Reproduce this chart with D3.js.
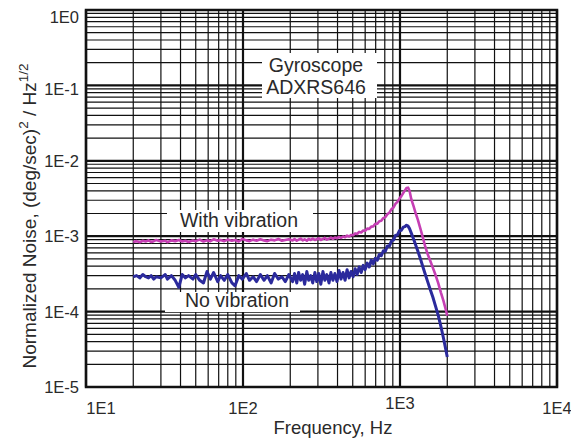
<!DOCTYPE html>
<html>
<head>
<meta charset="utf-8">
<script src="https://cdn.jsdelivr.net/npm/d3@7"></script>
<style>
  body { margin: 0; background: #fff; }
  text { font-family: "Liberation Sans", Arial, sans-serif; fill: #2a2a2a; }
</style>
</head>
<body>
<div id="chart-area"></div>
<script>
// frequency points (Hz)
var freq = [20, 21, 22, 23, 24, 25, 26, 27, 28,
  30, 32, 33, 35, 37, 39, 41, 43, 45,
  48, 50, 53, 56, 59, 62, 65, 69, 72,
  76, 80, 85, 89, 94, 99, 105, 110, 116,
  122, 129, 136, 143, 151, 159, 168, 177, 186,
  196,
  207, 213, 220, 226, 233, 240, 247, 255, 262, 270,
  278, 287, 295, 304, 313, 323, 332, 342, 353, 363,
  374, 385, 397, 409, 421, 434, 447, 460, 474, 488,
  503, 518, 533, 549, 566, 583, 600, 618, 637, 656,
  676, 696, 717, 738, 760, 783, 807, 831, 856, 882,
  908, 935, 963, 992, 1020, 1050, 1075, 1100, 1125, 1150,
  1180, 1220, 1260, 1300, 1350, 1400, 1450, 1500,
  1560, 1620, 1680, 1750, 1820, 1890, 1960, 2000];

// with vibration, in units of 1e-4
var withVib = [8.4, 8.6, 8.3, 8.7, 8.5, 8.8, 8.4, 8.6, 8.9,
  8.5, 8.7, 8.3, 8.8, 8.6, 8.9, 8.5, 8.7, 8.4,
  8.8, 8.6, 9.0, 8.5, 8.8, 8.6, 9.1, 8.7, 8.9,
  8.6, 9.0, 8.7, 8.9, 8.5, 9.2, 8.8, 8.6, 9.0,
  8.7, 9.1, 8.8, 8.6, 9.0, 8.8, 9.2, 8.7, 8.9,
  9.1,
  8.8, 9.2, 8.7, 9.0, 9.3, 8.8, 9.1, 8.7, 9.2, 8.9,
  9.3, 8.9, 9.1, 9.4, 8.9, 9.2, 9.5, 9.0, 9.3, 9.6,
  9.2, 9.6, 9.4, 9.8, 9.5, 9.9, 9.7, 10.2, 9.9, 10.4,
  10.3, 10.9, 10.7, 11.4, 11.2, 11.9, 11.8, 12.6, 12.5, 13.4,
  13.5, 14.6, 14.6, 15.8, 16.0, 17.4, 17.9, 19.6, 20.5, 22.8,
  24.0, 26.8, 28.5, 31.5, 34.0, 37.5, 40.5, 43.5, 44.0, 40.0,
  31.0, 25.0, 20.0, 16.5, 12.5, 9.5, 7.2, 5.8,
  4.7, 3.8, 3.1, 2.4, 1.8, 1.4, 1.05, 0.88];

// no vibration, in units of 1e-4
var noVib = [2.9, 3.0, 2.8, 3.1, 2.9, 2.8, 3.0, 2.7, 2.9,
  2.8, 3.1, 2.7, 3.0, 2.6, 2.1, 3.1, 2.8, 3.0,
  2.7, 3.1, 2.6, 2.4, 3.4, 2.7, 3.3, 2.5, 3.0,
  2.6, 3.1, 2.4, 2.2, 3.0, 2.7, 3.2, 2.6, 2.9,
  2.5, 3.1, 2.6, 3.0, 2.4, 3.2, 2.7, 2.9, 2.5,
  3.1,
  2.5, 3.2, 2.4, 3.3, 2.6, 3.1, 2.3, 3.4, 2.6, 3.0,
  2.4, 3.3, 2.5, 3.2, 2.3, 3.4, 2.6, 3.1, 2.4, 3.3,
  2.6, 3.2, 2.5, 3.5, 2.7, 3.3, 2.6, 3.6, 2.8, 3.4,
  2.9, 3.7, 3.1, 3.9, 3.3, 4.1, 3.6, 4.4, 3.9, 4.8,
  4.3, 5.1, 4.8, 5.7, 5.5, 6.4, 6.3, 7.4, 7.4, 8.6,
  8.9, 10.2, 10.4, 11.8, 12.0, 13.2, 13.4, 14.0, 13.6, 12.6,
  11.0, 9.2, 7.6, 6.3, 5.0, 3.9, 3.1, 2.5,
  1.95, 1.55, 1.2, 0.9, 0.64, 0.45, 0.31, 0.25];

var xTickLabels = ["1E1", "1E2", "1E3", "1E4"];
var yTickLabels = ["1E0", "1E-1", "1E-2", "1E-3", "1E-4", "1E-5"];

var width = 571, height = 439;
var plotLeft = 86, plotRight = 557, plotTop = 10, plotBottom = 387;

var svg = d3.select("#chart-area").append("svg")
	.attr("width", width)
	.attr("height", height);

var x = d3.scaleLog().domain([10, 10000]).range([plotLeft, plotRight]);
var y = d3.scaleLog().domain([1e-5, 1]).range([plotBottom, plotTop]);

function isDecade(v) { return Math.abs(Math.log10(v) - Math.round(Math.log10(v))) < 1e-9; }

// grid
var grid = svg.append("g");
grid.selectAll(".vx").data(x.ticks()).enter().append("line")
	.attr("x1", d => x(d)).attr("x2", d => x(d))
	.attr("y1", plotTop).attr("y2", plotBottom)
	.attr("stroke", "#111")
	.attr("stroke-width", d => isDecade(d) ? 2.2 : 1.2);
grid.selectAll(".hy").data(y.ticks()).enter().append("line")
	.attr("x1", plotLeft).attr("x2", plotRight)
	.attr("y1", d => y(d)).attr("y2", d => y(d))
	.attr("stroke", "#111")
	.attr("stroke-width", d => isDecade(d) ? 2.2 : 1.2);
svg.append("rect").attr("x", plotLeft).attr("y", plotTop)
	.attr("width", plotRight - plotLeft).attr("height", plotBottom - plotTop)
	.attr("fill", "none").attr("stroke", "#111").attr("stroke-width", 2.5);

// text boxes
function box(x0, y0, w, h) {
	svg.append("rect").attr("x", x0).attr("y", y0).attr("width", w).attr("height", h).attr("fill", "#fff");
}
box(262, 53, 115, 45);
box(167, 210, 146, 22);
box(165, 292, 135, 20);

svg.append("text").attr("x", 316).attr("y", 72).attr("text-anchor", "middle").attr("font-size", 19.5).text("Gyroscope");
svg.append("text").attr("x", 316).attr("y", 94).attr("text-anchor", "middle").attr("font-size", 19.5).text("ADXRS646");
svg.append("text").attr("x", 239).attr("y", 227).attr("text-anchor", "middle").attr("font-size", 19.5).text("With vibration");
svg.append("text").attr("x", 237).attr("y", 307).attr("text-anchor", "middle").attr("font-size", 19.5).text("No vibration");

// series
var line = d3.line().x(d => x(d[0])).y(d => y(d[1]));
svg.append("path")
	.attr("d", line(freq.map((f, i) => [f, withVib[i] * 1e-4])))
	.attr("fill", "none").attr("stroke", "#c63fb4").attr("stroke-width", 2.6)
	.attr("stroke-linejoin", "round");
svg.append("path")
	.attr("d", line(freq.map((f, i) => [f, noVib[i] * 1e-4])))
	.attr("fill", "none").attr("stroke", "#2b2a9c").attr("stroke-width", 3)
	.attr("stroke-linejoin", "round");

// axes labels
var xDec = [10, 100, 1000, 10000];
var yDec = [1, 1e-1, 1e-2, 1e-3, 1e-4, 1e-5];
svg.selectAll(".xl").data(xDec).enter().append("text")
	.attr("x", (d, i) => x(d) + (i === 0 ? 15 : 0))
	.attr("y", (d, i) => i === 2 ? 409 : 414)
	.attr("text-anchor", "middle").attr("font-size", 16.5)
	.text((d, i) => xTickLabels[i]);
svg.selectAll(".yl").data(yDec).enter().append("text")
	.attr("x", 79).attr("y", (d, i) => y(d) + 6 + (i === 0 ? 7 : i === 1 ? 4 : 0))
	.attr("text-anchor", "end").attr("font-size", 16.5)
	.text((d, i) => yTickLabels[i]);

svg.append("text").attr("x", 333).attr("y", 434).attr("text-anchor", "middle")
	.attr("font-size", 18.5).text("Frequency, Hz");

var yt = svg.append("text").attr("transform", "translate(36,216) rotate(-90)")
	.attr("text-anchor", "middle").attr("font-size", 19);
yt.append("tspan").text("Normalized Noise, (deg/sec)");
yt.append("tspan").attr("dy", -8).attr("font-size", 13.5).text("2");
yt.append("tspan").attr("dy", 8).text(" / Hz");
yt.append("tspan").attr("dy", -8).attr("font-size", 13.5).text("1/2");
</script>
</body>
</html>
